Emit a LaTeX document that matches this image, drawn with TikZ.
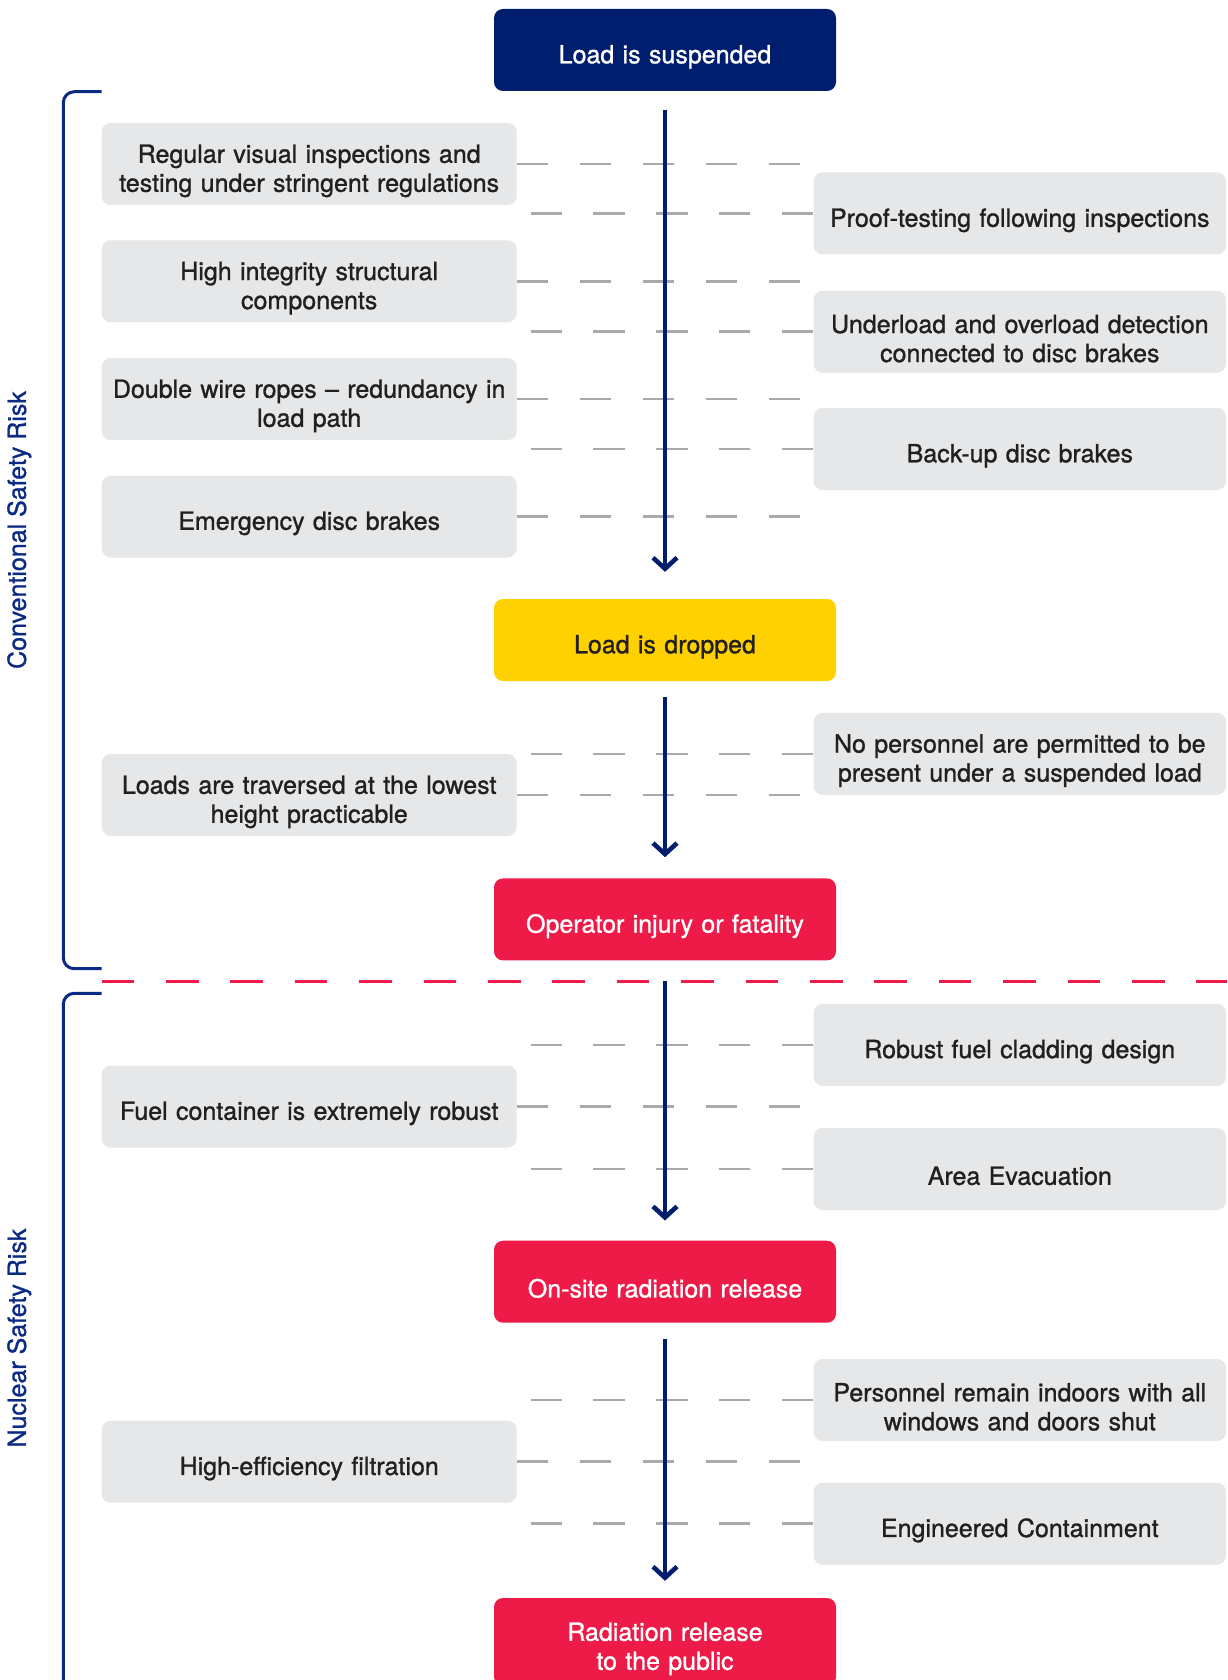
\documentclass[tikz,border=0pt]{standalone}
\usepackage{fontspec}
\setsansfont{TeX Gyre Heros}[BoldFont=TeX Gyre Heros,BoldFeatures={FakeBold=1.1}]
\usetikzlibrary{arrows.meta}
\definecolor{navy}{HTML}{001D6E}
\definecolor{riskblue}{HTML}{0B2A83}
\definecolor{dropyellow}{HTML}{FFD100}
\definecolor{harmred}{HTML}{EE1B48}
\definecolor{boxgray}{HTML}{E6E7E8}
\definecolor{dashgray}{HTML}{A7A9AC}
\definecolor{textdark}{HTML}{231F20}

\begin{document}
\begin{tikzpicture}[x=1pt,y=-1pt,font=\sffamily\bfseries\fontsize{25}{29}\selectfont,
  barrier/.style={fill=boxgray,text=textdark,rounded corners=9pt,inner sep=0pt,minimum height=82pt,text width=415pt,align=center,execute at begin node={\rule{0pt}{32pt}}},
  barrierR/.style={barrier,text width=412.5pt},
  stage/.style={rounded corners=9pt,inner sep=0pt,minimum height=82pt,text width=342pt,align=center,text=white,execute at begin node={\rule{0pt}{32pt}}},
  gdash/.style={draw=dashgray,line width=2.6pt,dash pattern=on 31.2pt off 31.7pt},
  flow/.style={draw=navy,line width=4.6pt,-{Straight Barb[length=11pt,width=24pt]}},
  riskbrace/.style={draw=riskblue,line width=3pt,rounded corners=11pt},
  risklabel/.style={text=riskblue,rotate=90}]
\clip (0,0) rectangle (1227,1680);

%Stages
\node[stage,fill=navy] (susp) at (665,50) {Load is suspended};
\node[stage,fill=dropyellow,text=textdark] (drop) at (665,640) {Load is dropped};
\node[stage,fill=harmred] (injury) at (665,919.4) {Operator injury or fatality};
\node[stage,fill=harmred] (onsite) at (665,1281.7) {On-site radiation release};
\node[stage,fill=harmred,minimum height=88pt] (public) at (665,1642) {Radiation release\\to the public};

%Conventional safety risk
\begin{scope}
\node[barrier] (insp) at (309.2,164) {Regular visual inspections and\\testing under stringent regulations};
\node[barrier] (integ) at (309.2,281.3) {High integrity structural\\components};
\node[barrier] (ropes) at (309.2,399) {Double wire ropes -- redundancy in\\load path};
\node[barrier] (ebrake) at (309.2,516.5) {Emergency disc brakes};
\node[barrier] (travs) at (309.2,795) {Loads are traversed at the lowest\\height practicable};
\node[barrierR] (proof) at (1019.8,213.5) {Proof-testing following inspections};
\node[barrierR] (ovld) at (1019.8,331.7) {Underload and overload detection\\connected to disc brakes};
\node[barrierR] (backup) at (1019.8,449) {Back-up disc brakes};
\node[barrierR] (nopers) at (1019.8,753.8) {No personnel are permitted to be\\present under a suspended load};
\node[risklabel] (convlab) at (19.3,530) {Conventional Safety Risk};
\coordinate (convtop) at (101.6,91.7);
\coordinate (convbot) at (101.6,968.7);
\draw[riskbrace] (convtop) -- ++(-38.3,0) |- (convbot);
\end{scope}

%Nuclear safety risk
\begin{scope}
\node[barrier] (fuel) at (309.2,1106.5) {Fuel container is extremely robust};
\node[barrier] (filt) at (309.2,1461.7) {High-efficiency filtration};
\node[barrierR] (clad) at (1019.8,1044.8) {Robust fuel cladding design};
\node[barrierR] (evac) at (1019.8,1169) {Area Evacuation};
\node[barrierR] (indoor) at (1019.8,1400) {Personnel remain indoors with all\\windows and doors shut};
\node[barrierR] (contain) at (1019.8,1523.7) {Engineered Containment};
\node[risklabel] (nuclab) at (19.3,1338) {Nuclear Safety Risk};
\coordinate (nuctop) at (101.6,993.3);
\coordinate (nucbot) at (101.6,1700);
\draw[riskbrace] (nuctop) -- ++(-38.3,0) |- (nucbot);
\end{scope}

%Separator
\coordinate (sepL) at (101.6,981.7);
\coordinate (sepR) at (1227,981.7);
\draw[draw=harmred,line width=2.6pt,dash pattern=on 32.5pt off 31.9pt] (sepL) -- (sepR);

%Barrier dashes
\coordinate (dashL) at (800,0);
\coordinate (dashR) at (530,0);
\draw[gdash] (insp.east) -- (insp.east -| dashL);
\draw[gdash] (integ.east) -- (integ.east -| dashL);
\draw[gdash] (ropes.east) -- (ropes.east -| dashL);
\draw[gdash] (ebrake.east) -- (ebrake.east -| dashL);
\draw[gdash] (travs.east) -- (travs.east -| dashL);
\draw[gdash] (fuel.east) -- (fuel.east -| dashL);
\draw[gdash] (filt.east) -- (filt.east -| dashL);
\draw[gdash] (proof.west) -- (proof.west -| dashR);
\draw[gdash] (ovld.west) -- (ovld.west -| dashR);
\draw[gdash] (backup.west) -- (backup.west -| dashR);
\draw[gdash] (nopers.west) -- (nopers.west -| dashR);
\draw[gdash] (clad.west) -- (clad.west -| dashR);
\draw[gdash] (evac.west) -- (evac.west -| dashR);
\draw[gdash] (indoor.west) -- (indoor.west -| dashR);
\draw[gdash] (contain.west) -- (contain.west -| dashR);

%Flow
\draw[flow,shorten <=19pt,shorten >=27pt] (susp.south) -- (drop.north);
\draw[flow,shorten <=16pt,shorten >=21pt] (drop.south) -- (injury.north);
\draw[flow,shorten <=20pt,shorten >=20pt] (injury.south) -- (onsite.north);
\draw[flow,shorten <=16pt,shorten >=17pt] (onsite.south) -- (public.north);

\end{tikzpicture}
\end{document}
